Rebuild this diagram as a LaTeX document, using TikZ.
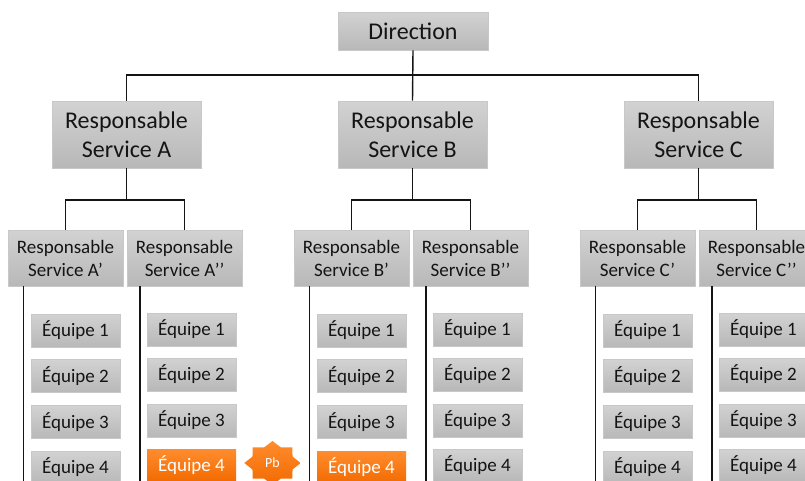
\documentclass[tikz,border=0pt]{standalone}
\usepackage{fontspec}
\setmainfont{Carlito}
\usetikzlibrary{positioning,shapes.geometric}

\definecolor{boxtop}{HTML}{D2D2D2}
\definecolor{boxbottom}{HTML}{B8B8B8}
\definecolor{boxedge}{HTML}{C8C8C8}
\definecolor{hottop}{HTML}{FF8C2E}
\definecolor{hotbottom}{HTML}{F26A00}
\definecolor{inktext}{HTML}{141414}

\tikzset{
    grad/.style={draw=boxedge,line width=0.6pt,top color=boxtop,bottom color=boxbottom,text=inktext,align=center,inner sep=0pt},
    head/.style={grad,minimum width=150pt,minimum height=38pt,font=\fontsize{24}{28}\selectfont},
    chief/.style={grad,minimum width=149pt,minimum height=67pt,font=\fontsize{24}{29}\selectfont},
    sub/.style={grad,minimum width=115pt,minimum height=56pt,font=\fontsize{19}{23}\selectfont},
    team/.style={grad,minimum width=89pt,minimum height=33pt,font=\fontsize{19}{22}\selectfont},
    teamhot/.style={team,draw=none,top color=hottop,bottom color=hotbottom,text=white},
    wire/.style={line width=1.4pt,draw=inktext},
    pbstar/.style={star,star points=8,star point ratio=1.3,top color=hottop,bottom color=hotbottom,text=white,inner sep=0pt,minimum size=44pt,xscale=1.28,transform shape,font=\fontsize{14}{16}\selectfont},
}

\begin{document}
\begin{tikzpicture}[x=1pt,y=-1pt]

\clip (0,0) rectangle (805,480);

\newcommand\teamcolumn[7]
{
    \node (s#1) [sub] at (#2,258) {Responsable\\Service #3};
    \coordinate (foot#1) at (#2+#6,482);
    \draw [wire] (s#1.south -| foot#1) -- (foot#1);
    \foreach \y [count=\i] in #4
    {
        \ifnum\i=#5 \def\teamstyle{teamhot}\else\def\teamstyle{team}\fi
        \node (t#1-\i) [\teamstyle] at (#2+#7,\y) {Équipe \i};
    }
}

\newcommand\servicegroup[4]
{
    \node (c#1) [chief] at (126.5+#2,134.5) {Responsable\\Service #1};
    \teamcolumn{#1p}{65.5+#2}{#1’}{{330.5,376,422,467.5}}{#3}{-42}{10}
    \teamcolumn{#1s}{184.5+#2}{#1’’}{{329.5,374.5,420.5,465.5}}{#4}{-44.5}{7}
    \coordinate (fork#1) at (c#1 |- 0,200);
    \draw [wire] (c#1.south) -- (fork#1);
    \draw [wire] (fork#1) -| (s#1p.north);
    \draw [wire] (fork#1) -| (s#1s.north);
}

\servicegroup{A}{0}{0}{4}
\servicegroup{B}{286}{4}{0}
\servicegroup{C}{572}{0}{0}

\node (dir) [head] at (413,31) {Direction};
\coordinate (busdir) at (dir |- 0,75);
\draw [wire] (dir.south) -- (cB.north);
\draw [wire] (busdir) -| (cA.north);
\draw [wire] (busdir) -| (cC.north);

\node (pb) [pbstar] at (272.5,463) {\scalebox{0.78}[1]{Pb}};

\end{tikzpicture}
\end{document}
